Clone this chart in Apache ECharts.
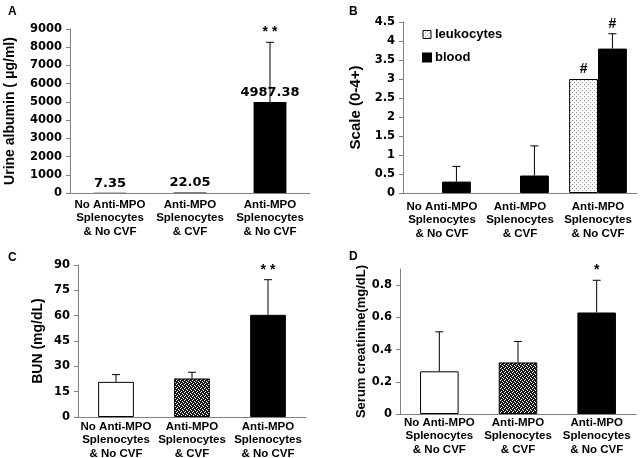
<!DOCTYPE html>
<html>
<head>
<meta charset="utf-8">
<script src="https://cdn.jsdelivr.net/npm/echarts@6/dist/echarts.min.js"></script>
<style>
  html, body { margin: 0; padding: 0; background: #fff; }
  #chart { width: 640px; height: 458px; }
</style>
</head>
<body>
<div id="chart"></div>
<script>
// data
var groups = ['No Anti-MPO\nSplenocytes\n& No CVF', 'Anti-MPO\nSplenocytes\n& CVF', 'Anti-MPO\nSplenocytes\n& No CVF'];

// A: urine albumin
var albumin = [7.35, 22.05, 4987.38];
var albuminErr = [0, 0, 3283];
var albuminSig = ['', '', '* *'];

// B: dipstick scale
var leukocytes = [0, 0, 3.0];
var leukocytesErr = [0, 0, 0];
var leukocytesSig = ['', '', '#'];
var blood = [0.3, 0.46, 3.8];
var bloodErr = [0.4, 0.78, 0.39];
var bloodSig = ['', '', '#'];

// C: BUN
var bun = [20.8, 22.8, 60.5];
var bunErr = [4.3, 3.7, 20.8];
var bunSig = ['', '', '* *'];

// D: serum creatinine
var creat = [0.265, 0.32, 0.63];
var creatErr = [0.245, 0.13, 0.2];
var creatSig = ['', '', '*'];
var creatTicks = [0, 0.2, 0.4, 0.6, 0.8];

var labelFont = '"Liberation Sans", Arial, sans-serif';
var numFont = '"DejaVu Sans", sans-serif';

// fill patterns
function pattern(size, bg, fg, dots) {
  var c = document.createElement('canvas');
  c.width = size; c.height = size;
  var ctx = c.getContext('2d');
  ctx.fillStyle = bg;
  ctx.fillRect(0, 0, size, size);
  ctx.fillStyle = fg;
  dots.forEach(function (d) { ctx.fillRect(d[0], d[1], 1, 1); });
  return { image: c, repeat: 'repeat' };
}
var lightDots = pattern(4, '#ffffff', '#8a8a8a', [[0, 0], [2, 2]]);
var darkDots = pattern(4, '#1a1a1a', '#ffffff', [[0, 0], [2, 1], [1, 3], [3, 2]]);

// error bars + significance marks, drawn through the axes
function errSeries(idx, vals, errs, marks, shift) {
  return {
    type: 'custom',
    xAxisIndex: idx,
    yAxisIndex: idx,
    z: 5,
    data: vals.map(function (v, i) { return [i, v + errs[i]]; }),
    renderItem: function (params, api) {
      var i = params.dataIndex;
      var band = api.size([1, 0])[0];
      var base = api.coord([i, vals[i]]);
      var top = api.coord([i, vals[i] + errs[i]]);
      var x = base[0] + band * shift;
      var kids = [];
      if (errs[i] > 0) {
        kids.push({ type: 'line', shape: { x1: x, y1: base[1], x2: x, y2: top[1] }, style: { stroke: '#000', lineWidth: 1 } });
        kids.push({ type: 'line', shape: { x1: x - 4, y1: top[1], x2: x + 4, y2: top[1] }, style: { stroke: '#000', lineWidth: 1 } });
      }
      if (marks[i]) {
        kids.push({
          type: 'text', x: x, y: top[1] - 3,
          style: { text: marks[i], align: 'center', verticalAlign: 'bottom', fill: '#000', font: 'bold 14px ' + labelFont }
        });
      }
      return { type: 'group', children: kids };
    }
  };
}

// hide the outline of zero-height bars
function barData(vals, fills) {
  return vals.map(function (v, i) {
    var st = { borderColor: '#000', borderWidth: v > 0 ? 1 : 0 };
    if (fills) st.color = fills[i];
    return { value: v, itemStyle: st };
  });
}

var grids = [
  { left: 70, top: 29, right: 330, bottom: 265 },
  { left: 403, top: 22, right: 3, bottom: 265 },
  { left: 78, top: 265, right: 334, bottom: 41 },
  { left: 400, top: 269, right: 4, bottom: 44 }
];
grids.forEach(function (g) { g.containLabel = false; g.outerBoundsMode = 'none'; });

function xAx(idx, margin) {
  return {
    type: 'category', gridIndex: idx, data: groups,
    axisLine: { lineStyle: { color: '#808080', width: 1 } },
    axisTick: { show: false },
    axisLabel: { interval: 0, margin: margin, color: '#000', fontWeight: 'bold', fontSize: 11.5, fontFamily: labelFont, lineHeight: 13.5 }
  };
}
function yAx(idx, max, interval, name, nameGap, nameSize) {
  return {
    type: 'value', gridIndex: idx, min: 0, max: max, interval: interval,
    name: name, nameLocation: 'middle', nameGap: nameGap,
    nameTextStyle: { color: '#000', fontWeight: 'bold', fontSize: nameSize, fontFamily: labelFont },
    splitLine: { show: false },
    axisLine: { show: true, lineStyle: { color: '#808080', width: 1 } },
    axisTick: { show: true, inside: false, length: 4, lineStyle: { color: '#808080' } },
    axisLabel: {
      margin: 8, color: '#000', fontWeight: 'bold', fontSize: 11.5, fontFamily: numFont,
      formatter: function (v) { return String(+v.toFixed(2)); }
    }
  };
}

var yD = yAx(3, 0.9, 0.2, 'Serum creatinine(mg/dL)', 32, 13);
yD.axisLabel.customValues = creatTicks;
yD.axisTick.customValues = creatTicks;

var option = {
  animation: false,
  backgroundColor: '#fff',
  title: [
    { text: 'A', left: 3, top: 1 },
    { text: 'B', left: 344, top: 1 },
    { text: 'C', left: 3, top: 247 },
    { text: 'D', left: 344, top: 246 }
  ].map(function (t) {
    t.textStyle = { fontSize: 12, fontWeight: 'bold', color: '#000', fontFamily: labelFont };
    return t;
  }),
  legend: {
    left: 417, top: 23, orient: 'vertical', itemWidth: 8, itemHeight: 8, itemGap: 10,
    icon: 'rect',
    data: [
      { name: 'leukocytes', itemStyle: { color: lightDots, borderColor: '#000', borderWidth: 1 } },
      { name: 'blood', itemStyle: { color: '#000' } }
    ],
    textStyle: { fontSize: 13, fontWeight: 'bold', color: '#000', fontFamily: labelFont, padding: [0, 0, 0, -1] }
  },
  grid: grids,
  xAxis: [xAx(0, 5), xAx(1, 7), xAx(2, 3), xAx(3, 2)],
  yAxis: [
    yAx(0, 9000, 1000, 'Urine albumin ( \u03bcg/ml)', 53, 14),
    yAx(1, 4.5, 0.5, 'Scale (0-4+)', 40, 15),
    yAx(2, 90, 15, 'BUN (mg/dL)', 33, 14),
    yD
  ],
  series: [
    {
      type: 'bar', xAxisIndex: 0, yAxisIndex: 0, data: albumin, barWidth: '41%',
      itemStyle: { color: '#000' },
      label: { show: true, position: 'top', distance: 3, color: '#000', fontWeight: 'bold', fontSize: 13, fontFamily: numFont }
    },
    errSeries(0, albumin, albuminErr, albuminSig, 0),

    {
      name: 'leukocytes', type: 'bar', xAxisIndex: 1, yAxisIndex: 1, data: barData(leukocytes),
      barWidth: '37%', barGap: '0%',
      itemStyle: { color: lightDots, borderColor: '#000', borderWidth: 1 }
    },
    {
      name: 'blood', type: 'bar', xAxisIndex: 1, yAxisIndex: 1, data: barData(blood),
      barWidth: '37%', barGap: '0%',
      itemStyle: { color: '#000', borderColor: '#000', borderWidth: 1 }
    },
    errSeries(1, leukocytes, leukocytesErr, leukocytesSig, -0.185),
    errSeries(1, blood, bloodErr, bloodSig, 0.185),

    {
      type: 'bar', xAxisIndex: 2, yAxisIndex: 2, barWidth: '47%',
      data: barData(bun, ['#fff', darkDots, '#000'])
    },
    errSeries(2, bun, bunErr, bunSig, 0),

    {
      type: 'bar', xAxisIndex: 3, yAxisIndex: 3, barWidth: '49%',
      data: barData(creat, ['#fff', darkDots, '#000'])
    },
    errSeries(3, creat, creatErr, creatSig, 0)
  ]
};

var chart = echarts.init(document.getElementById('chart'), null, { renderer: 'canvas' });
chart.setOption(option);
</script>
</body>
</html>
